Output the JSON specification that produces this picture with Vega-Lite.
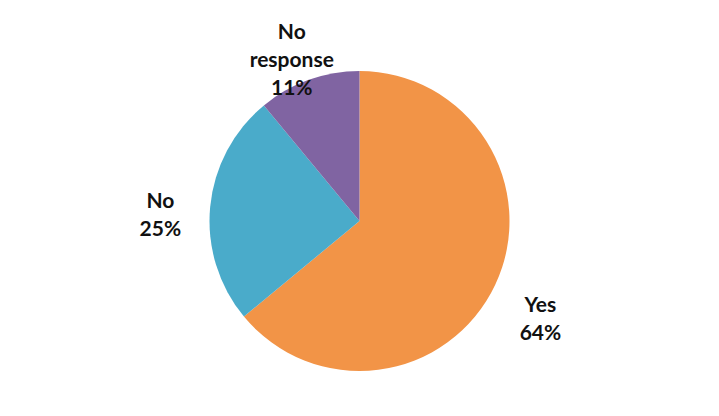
{
  "$schema": "https://vega.github.io/schema/vega-lite/v6.json",
  "width": 719,
  "height": 390,
  "autosize": "none",
  "padding": {"top": 26, "left": 0, "right": 0, "bottom": 0},
  "background": "white",
  "view": {"stroke": null},
  "data": {
    "values": [
      {"i": 1, "category": "Yes", "value": 64, "label": "Yes|64%"},
      {"i": 2, "category": "No", "value": 25, "label": "No|25%"},
      {"i": 3, "category": "No response", "value": 11, "label": "No|response|11%"}
    ]
  },
  "encoding": {
    "theta": {"field": "value", "type": "quantitative", "stack": true},
    "order": {"field": "i", "type": "quantitative"}
  },
  "layer": [
    {
      "mark": {"type": "arc", "outerRadius": 150, "stroke": null},
      "encoding": {
        "color": {
          "field": "category",
          "type": "nominal",
          "sort": null,
          "scale": {"domain": ["Yes", "No", "No response"], "range": ["#F29447", "#4AABCA", "#8064A2"]},
          "legend": null
        }
      }
    },
    {
      "mark": {"type": "text", "radius": 200, "font": "Lato", "fontWeight": "bold", "fontSize": 21, "lineBreak": "|", "lineHeight": 28, "color": "#111111", "baseline": "middle", "align": "center"},
      "encoding": {
        "text": {"field": "label", "type": "nominal"}
      }
    }
  ]
}
